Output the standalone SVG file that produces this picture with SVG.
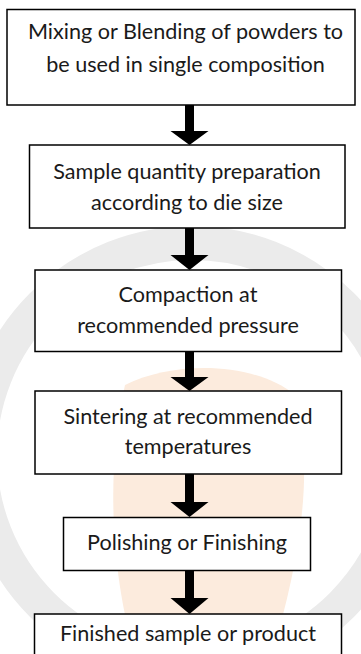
<svg xmlns="http://www.w3.org/2000/svg" width="361" height="654" viewBox="0 0 361 654">
  <style>
    .box { fill: #ffffff; stroke: #000000; stroke-width: 1.5; }
    .lbl { font-family: Lato, "Open Sans", "Liberation Sans", sans-serif; font-size: 21.6px; fill: #1a1a1a; text-anchor: middle; }
    .arrow { fill: #000000; stroke: none; }
  </style>
  <rect x="0" y="0" width="361" height="654" fill="#ffffff"/>
  <g id="watermark">
    <circle cx="192" cy="455" r="212" fill="none" stroke="#ebebeb" stroke-width="34"/>
    <path d="M125 385 C175 360 255 362 295 395 C315 470 300 560 272 654 L135 654 C112 580 105 470 125 385 Z" fill="#fcebdd"/>
  </g>
  <g id="connectors">
    <path class="arrow" d="M185 105 H194 V131 H208.5 L189.5 145 L170.5 131 H185 Z"/>
    <path class="arrow" d="M185 228 H194 V255 H208.5 L189.5 270 L170.5 255 H185 Z"/>
    <path class="arrow" d="M185 351 H194 V377 H208.5 L189.5 391 L170.5 377 H185 Z"/>
    <path class="arrow" d="M185 474 H194 V502 H208.5 L189.5 517 L170.5 502 H185 Z"/>
    <path class="arrow" d="M185 570 H194 V598 H208.5 L189.5 614 L170.5 598 H185 Z"/>
  </g>
  <g id="n1">
    <rect class="box" x="7" y="9.5" width="348" height="95.5"/>
    <text class="lbl" x="185.5" y="39">Mixing or Blending of powders to</text>
    <text class="lbl" x="185.5" y="72">be used in single composition</text>
  </g>
  <g id="n2">
    <rect class="box" x="29.5" y="145" width="315.5" height="83"/>
    <text class="lbl" x="187" y="179">Sample quantity preparation</text>
    <text class="lbl" x="187" y="210">according to die size</text>
  </g>
  <g id="n3">
    <rect class="box" x="35" y="270" width="306.5" height="81.5"/>
    <text class="lbl" x="188" y="302">Compaction at</text>
    <text class="lbl" x="188" y="333">recommended pressure</text>
  </g>
  <g id="n4">
    <rect class="box" x="35" y="391" width="306.5" height="83"/>
    <text class="lbl" x="188" y="424">Sintering at recommended</text>
    <text class="lbl" x="188" y="454">temperatures</text>
  </g>
  <g id="n5">
    <rect class="box" x="63.5" y="517.5" width="247" height="53"/>
    <text class="lbl" x="187" y="550">Polishing or Finishing</text>
  </g>
  <g id="n6">
    <rect class="box" x="34.5" y="614" width="307" height="50"/>
    <text class="lbl" x="188" y="641">Finished sample or product</text>
  </g>
</svg>
